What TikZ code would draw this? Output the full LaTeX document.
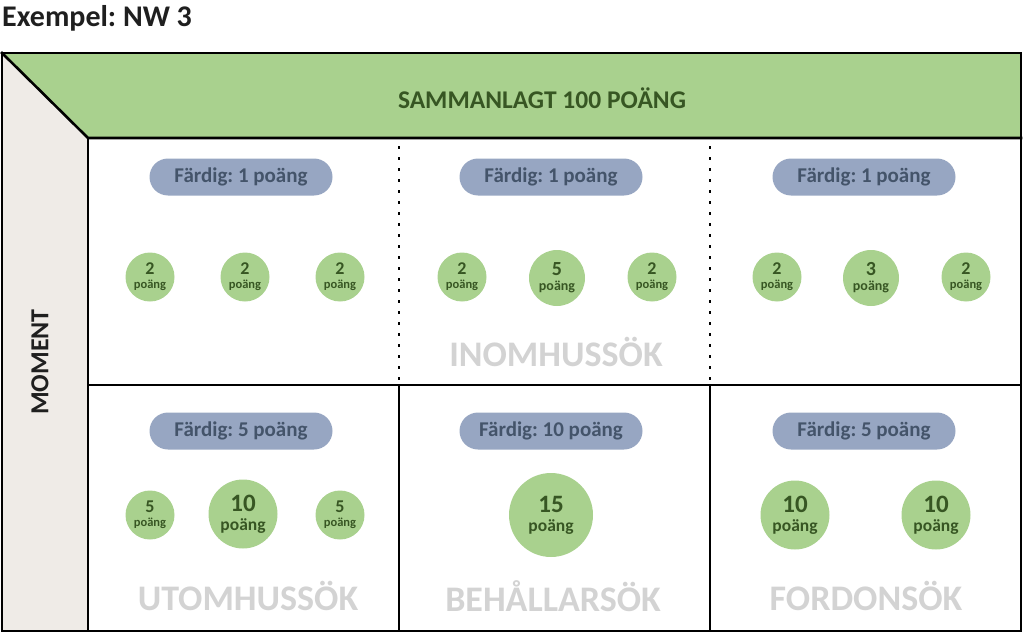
\documentclass[tikz,border=0pt]{standalone}
\usepackage{fontspec}
\setmainfont{Carlito}
\frenchspacing
\definecolor{hgreen}{HTML}{A9D18E}
\definecolor{cgreen}{HTML}{A9D18E}
\definecolor{gtext}{HTML}{375623}
\definecolor{strip}{HTML}{EFEBE7}
\definecolor{pill}{HTML}{97A6C2}
\definecolor{ptext}{HTML}{44546A}
\definecolor{lgray}{HTML}{D3D3D3}
\newcommand\fs[1]{\fontsize{#1}{#1}\selectfont}
\tikzset{
  frame/.style={line width=2.6pt, line cap=rect},
  dotline/.style={line width=2.6pt, dash pattern=on 2.6pt off 8.4pt},
  pillbox/.style={rounded rectangle, fill=pill, text=ptext, minimum width=183pt, minimum height=37pt, inner sep=0pt, font=\bfseries\fs{21}},
  ptc/.style={circle, fill=cgreen, text=gtext, inner sep=0pt, align=center, minimum size=#1, font=\bfseries\fontsize{10}{10}\selectfont},
  seclabel/.style={text=lgray, font=\bfseries\fs{36}, inner sep=0pt},
}
\usetikzlibrary{shapes.misc}
\newcommand\pc[7]{\node[ptc=#3] (#1) at #2 {\fs{#5}#4\\[#7]\fs{#6}poäng};}
\begin{document}
\begin{tikzpicture}[x=1pt,y=-1pt]
\useasboundingbox (0,0) rectangle (1023,634);
% backgrounds
\fill[strip] (2,53) -- (88,138) -- (88,631) -- (2,631) -- cycle;
\fill[hgreen] (2,53) -- (1021,53) -- (1021,138) -- (88,138) -- cycle;
% frame lines
\draw[frame] (2,53) rectangle (1021,631);
\draw[frame] (2,53) -- (88,138) -- (1021,138);
\draw[frame] (88,138) -- (88,631);
\draw[frame] (88,385) -- (1021,385);
\draw[frame] (399,385) -- (399,631);
\draw[frame] (710,385) -- (710,631);
\draw[dotline] (399,146) -- (399,382);
\draw[dotline] (710,146) -- (710,382);
% titles
\node[anchor=west, inner sep=0pt, font=\bfseries\fs{30}, text=black!88] (title) at (2,18) {Exempel: NW 3};
\node[text=gtext, font=\bfseries\fs{25.5}, inner sep=0pt] (total) at (542,98) {SAMMANLAGT 100 POÄNG};
\node[rotate=90, text=black!88, font=\bfseries\fs{26}, inner sep=0pt] (moment) at (40,362) {MOMENT};
% pills
\node[pillbox] (p1) at (241,177) {Färdig: 1 poäng};
\node[pillbox] (p2) at (551,177) {Färdig: 1 poäng};
\node[pillbox] (p3) at (864,177) {Färdig: 1 poäng};
\node[pillbox] (p4) at (241,431) {Färdig: 5 poäng};
\node[pillbox] (p5) at (551,431) {Färdig: 10 poäng};
\node[pillbox] (p6) at (864,431) {Färdig: 5 poäng};
% top row circles
\pc{a1}{(150,277)}{49pt}{2}{18}{12.5}{4pt}
\pc{a2}{(245,277)}{49pt}{2}{18}{12.5}{4pt}
\pc{a3}{(340,277)}{49pt}{2}{18}{12.5}{4pt}
\pc{b1}{(462,277)}{49pt}{2}{18}{12.5}{4pt}
\pc{b2}{(557,278)}{56pt}{5}{20}{14}{5pt}
\pc{b3}{(652,277)}{49pt}{2}{18}{12.5}{4pt}
\pc{c1}{(777,277)}{49pt}{2}{18}{12.5}{4pt}
\pc{c2}{(871,278)}{56pt}{3}{20}{14}{5pt}
\pc{c3}{(966,277)}{49pt}{2}{18}{12.5}{4pt}
% bottom row circles
\pc{d1}{(150,515)}{49pt}{5}{18}{12.5}{4pt}
\pc{d2}{(243,514)}{69pt}{10}{25}{17.5}{6pt}
\pc{d3}{(340,515)}{49pt}{5}{18}{12.5}{4pt}
\pc{e1}{(551,515)}{84pt}{15}{25}{17.5}{6pt}
\pc{f1}{(795,515)}{69pt}{10}{25}{17.5}{6pt}
\pc{f2}{(936,515)}{69pt}{10}{25}{17.5}{6pt}
% section labels
\node[seclabel] (inom) at (556,352) {INOMHUSSÖK};
\node[seclabel] (utom) at (248,596) {UTOMHUSSÖK};
\node[seclabel] (behal) at (553,596) {BEHÅLLARSÖK};
\node[seclabel] (ford) at (866,596) {FORDONSÖK};
\end{tikzpicture}
\end{document}
